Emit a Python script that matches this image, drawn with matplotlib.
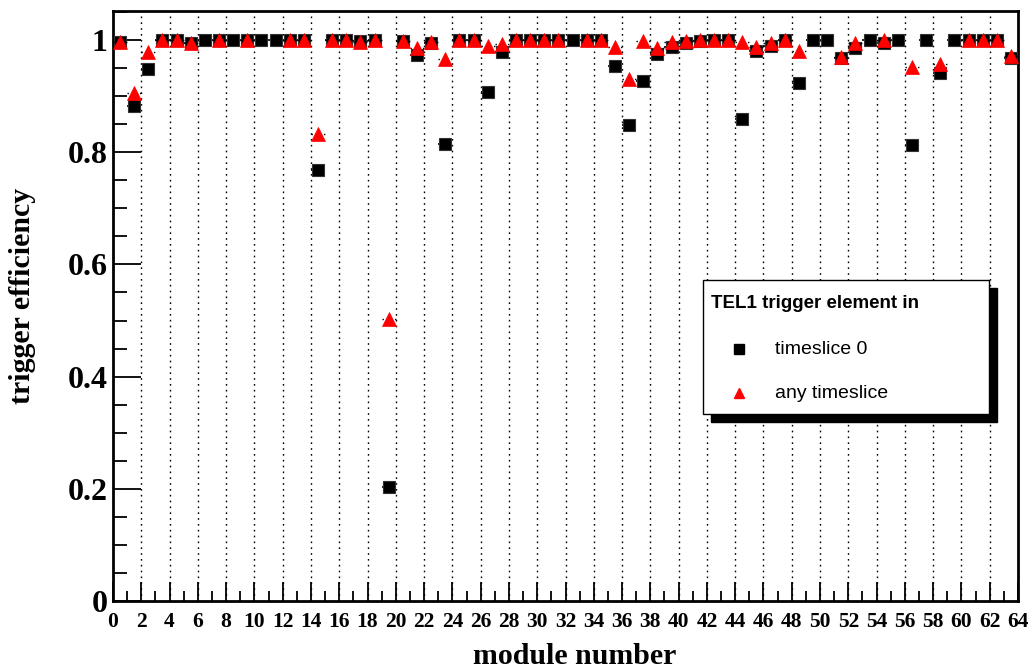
import numpy as np
import matplotlib
matplotlib.use("Agg")
import matplotlib.pyplot as plt
from matplotlib.patches import Rectangle
from matplotlib.lines import Line2D
from matplotlib.ticker import MultipleLocator, FixedLocator

modules = np.arange(64)

eff_ts0 = [0.997, 0.882, 0.948, 1.0, 1.0, 0.995, 1.0, 1.0, 1.0, 1.0,
           1.0, 1.0, 1.0, 1.0, 0.768, 1.0, 1.0, 0.998, 1.0, 0.203,
           0.999, 0.973, 0.995, 0.815, 1.0, 1.0, 0.908, 0.979, 1.0, 1.0,
           1.0, 1.0, 1.0, 1.0, 1.0, 0.954, 0.848, 0.927, 0.975, 0.988,
           0.995, 0.998, 1.0, 1.0, 0.859, 0.981, 0.990, 1.0, 0.923, 1.0,
           1.0, 0.968, 0.985, 1.0, 0.994, 1.0, 0.812, 1.0, 0.942, 1.0,
           1.0, 1.0, 1.0, 0.968]

nan = float('nan')
eff_any = [0.997, 0.905, 0.978, 1.0, 1.0, 0.995, nan, 1.0, nan, 1.0,
           nan, nan, 1.0, 1.0, 0.832, 1.0, 1.0, 0.997, 1.0, 0.503,
           0.999, 0.985, 0.997, 0.967, 1.0, 1.0, 0.989, 0.992, 1.0, 1.0,
           1.0, 1.0, nan, 1.0, 1.0, 0.988, 0.930, 0.998, 0.985, 0.997,
           0.998, 1.0, 1.0, 1.0, 0.996, 0.988, 0.994, 1.0, 0.980, nan,
           nan, 0.970, 0.994, nan, 1.0, nan, 0.951, nan, 0.958, nan,
           1.0, 1.0, 1.0, 0.971]

x_ticks = list(range(0, 65, 2))
y_ticks = [0, 0.2, 0.4, 0.6, 0.8, 1]
y_tick_labels = ['0', '0.2', '0.4', '0.6', '0.8', '1']
legend_title = 'TEL1 trigger element in'
legend_labels = ['timeslice 0', 'any timeslice']

W, H = 1032, 671
fig = plt.figure(figsize=(W / 100, H / 100), dpi=100)
L, R, B, T = 113, 1018, 601, 11
ax = fig.add_axes([L / W, 1 - B / H, (R - L) / W, (B - T) / H])

xc = modules + 0.5
# squares (timeslice 0)
eb1 = ax.errorbar(xc, eff_ts0, xerr=0.5, fmt='s', color='black', ms=8.6,
                  ecolor='black', elinewidth=1.2, capsize=0, zorder=3,
                  mec='#333333', mew=0.8)
# triangles (any timeslice)
eb2 = ax.errorbar(xc, eff_any, xerr=0.5, fmt='^', color='red', ms=9.5,
                  ecolor='black', elinewidth=1.0, capsize=0, zorder=4,
                  mec='red', mew=0.5)
eb2[2][0].set_linestyle((0, (1, 2)))

ax.set_xlim(0, 64)
ax.set_ylim(0, 1.0517)

for gx in range(2, 64, 2):
    ax.axvline(gx, color='black', lw=1.0, ls=(0, (1.2, 3)), zorder=1)

ax.xaxis.set_major_locator(FixedLocator(x_ticks))
ax.xaxis.set_minor_locator(MultipleLocator(1))
ax.yaxis.set_major_locator(FixedLocator(y_ticks))
ax.yaxis.set_minor_locator(MultipleLocator(0.05))
ax.set_yticklabels(y_tick_labels)
ax.set_xticklabels([str(v) for v in x_ticks])

ax.tick_params(axis='x', which='major', direction='in', length=14, width=1.3,
               pad=8, labelsize=15.5)
ax.tick_params(axis='x', which='minor', direction='in', length=7, width=1.3)
ax.tick_params(axis='y', which='major', direction='in', length=20, width=1.3,
               pad=4, labelsize=23)
ax.tick_params(axis='y', which='minor', direction='in', length=10, width=1.3)
for lab in ax.get_xticklabels() + ax.get_yticklabels():
    lab.set_fontfamily('Liberation Serif')
    lab.set_fontweight('bold')
for sp in ax.spines.values():
    sp.set_linewidth(2)

fig.text(575 / W, 1 - 657 / H, 'module number', ha='center', va='center',
         fontsize=21.5, fontweight='bold', family='Liberation Serif')
fig.text(23 / W, 1 - 296 / H, 'trigger efficiency', ha='center', va='center',
         rotation=90, fontsize=21.5, fontweight='bold', family='Liberation Serif')

# legend box with shadow
bx0, by0, bx1, by1 = 703, 280, 989, 414
sh = 8
fig.patches.append(Rectangle(((bx0 + sh) / W, 1 - (by1 + sh) / H),
                             (bx1 - bx0) / W, (by1 - by0) / H,
                             transform=fig.transFigure, facecolor='black',
                             edgecolor='black', zorder=5))
fig.patches.append(Rectangle((bx0 / W, 1 - by1 / H), (bx1 - bx0) / W,
                             (by1 - by0) / H, transform=fig.transFigure,
                             facecolor='white', edgecolor='black', lw=1.0,
                             zorder=6))
fig.text(711 / W, 1 - 303 / H, legend_title, ha='left', va='center',
         fontsize=13.5, fontweight='bold', family='Liberation Sans', zorder=7)
fig.lines.append(Line2D([739 / W], [1 - 349 / H], marker='s', color='black',
                        ms=6.5, transform=fig.transFigure, zorder=7))
fig.lines.append(Line2D([739 / W], [1 - 393 / H], marker='^', color='red',
                        ms=7, transform=fig.transFigure, zorder=7))
fig.text(775 / W, 1 - 349 / H, legend_labels[0], ha='left', va='center',
         fontsize=14, family='Liberation Sans', zorder=7)
fig.text(775 / W, 1 - 393 / H, legend_labels[1], ha='left', va='center',
         fontsize=14, family='Liberation Sans', zorder=7)

fig.savefig('out.png', dpi=100)
